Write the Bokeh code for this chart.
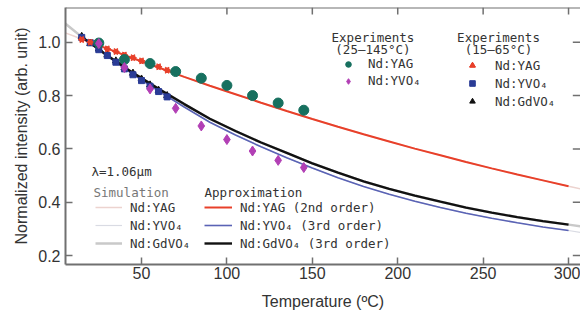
import math
from bokeh.plotting import figure
from bokeh.models import Range1d, FixedTicker, Legend, LegendItem, Label, Span, PrintfTickFormatter
from bokeh.embed import file_html
from bokeh.resources import INLINE

# ---------------- data ----------------
x_ticks = [50, 100, 150, 200, 250, 300]
y_ticks = [0.2, 0.4, 0.6, 0.8, 1.0]

temp_approx = [15, 30, 45, 60, 75, 90, 105, 120, 135, 150, 165, 180, 195, 210, 225, 240, 255, 270, 285, 300]
yag_approx = [1.012, 0.976, 0.940, 0.905, 0.870, 0.837, 0.805, 0.773, 0.742, 0.712, 0.683, 0.655, 0.628,
              0.601, 0.576, 0.551, 0.527, 0.504, 0.482, 0.460]
yvo4_approx = [1.020, 0.948, 0.880, 0.817, 0.757, 0.700, 0.652, 0.608, 0.567, 0.528, 0.492, 0.459, 0.430,
               0.404, 0.380, 0.359, 0.340, 0.323, 0.307, 0.294]
gdvo4_approx = [1.020, 0.950, 0.885, 0.825, 0.768, 0.713, 0.667, 0.624, 0.585, 0.546, 0.511, 0.478, 0.450,
                0.425, 0.402, 0.380, 0.361, 0.344, 0.329, 0.316]

temp_sim = [5, 15, 30, 45, 60, 75, 90, 105, 120, 135, 150, 165, 180, 195, 210, 225, 240, 255, 270, 285, 300, 312]
yag_sim = [1.036, 1.012, 0.976, 0.940, 0.905, 0.870, 0.837, 0.805, 0.773, 0.742, 0.712, 0.683, 0.655, 0.628,
           0.601, 0.576, 0.551, 0.527, 0.504, 0.482, 0.460, 0.443]
yvo4_sim = [1.070, 1.020, 0.948, 0.880, 0.817, 0.757, 0.700, 0.652, 0.608, 0.567, 0.528, 0.492, 0.459, 0.430,
            0.404, 0.380, 0.359, 0.340, 0.323, 0.307, 0.294, 0.282]
gdvo4_sim = [1.072, 1.020, 0.950, 0.885, 0.825, 0.768, 0.713, 0.667, 0.624, 0.585, 0.546, 0.511, 0.478, 0.450,
             0.425, 0.402, 0.380, 0.361, 0.344, 0.329, 0.316, 0.305]

temp_exp1 = [25, 40, 55, 70, 85, 100, 115, 130, 145]
yag_exp1 = [0.997, 0.935, 0.920, 0.890, 0.865, 0.838, 0.800, 0.772, 0.745]
yvo4_exp1 = [0.995, 0.905, 0.825, 0.752, 0.686, 0.635, 0.592, 0.557, 0.530]

temp_exp2 = [15, 20, 25, 30, 35, 40, 45, 50, 55, 60, 65]
yag_exp2 = [1.010, 1.000, 0.990, 0.975, 0.965, 0.952, 0.942, 0.930, 0.920, 0.908, 0.895]
yvo4_exp2 = [1.018, 0.998, 0.972, 0.950, 0.925, 0.900, 0.878, 0.856, 0.835, 0.815, 0.795]
gdvo4_exp2 = [1.022, 0.995, 0.975, 0.952, 0.930, 0.905, 0.884, 0.862, 0.840, 0.820, 0.800]

# ---------------- styles ----------------
MONO = "DejaVu Sans Mono"
SANS = "Liberation Sans"
AX = "#707070"
TXT = "#333333"
RED = "#e8402a"
TEAL = "#17705f"
MAG = "#b23fb5"
BLUE_M = "#2a3c96"
BLUE_L = "#5a63b5"
BLACK = "#111111"

X0, X1 = 5.5, 307.0
Y0, Y1 = 0.1665, 1.1302
TICK_Y = 0.026
TICK_X = 4.5

p = figure(width=580, height=312, output_backend="svg", toolbar_location=None,
           x_range=Range1d(X0, X1), y_range=Range1d(Y0, Y1),
           min_border_left=65, min_border_right=0, min_border_top=7, min_border_bottom=46)
p.xgrid.visible = False
p.ygrid.visible = False
p.outline_line_color = None
p.background_fill_color = "white"
p.border_fill_color = "white"

for ax in (p.xaxis[0], p.yaxis[0]):
    ax.axis_line_color = AX
    ax.axis_line_width = 2
    ax.major_tick_line_color = AX
    ax.major_tick_line_width = 1.5
    ax.major_tick_in = 7
    ax.major_tick_out = 0
    ax.minor_tick_line_color = None
    ax.major_label_text_font = SANS
    ax.major_label_text_font_size = "16px"
    ax.major_label_text_color = TXT
    ax.axis_label_text_font = SANS
    ax.axis_label_text_font_size = "16px"
    ax.axis_label_text_font_style = "normal"
    ax.axis_label_text_color = TXT

p.xaxis.ticker = FixedTicker(ticks=x_ticks)
p.yaxis.ticker = FixedTicker(ticks=y_ticks)
p.yaxis.formatter = PrintfTickFormatter(format="%.1f")
p.yaxis.axis_label = "Normalized intensity (arb. unit)"
p.xaxis.axis_label = "Temperature (ºC)"
p.xaxis.major_label_standoff = 2
p.xaxis.axis_label_standoff = 11
p.yaxis.major_label_standoff = 5
p.yaxis.axis_label_standoff = 5

# top frame line and mirrored ticks (top and right)
p.add_layout(Span(location=Y1, dimension="width", line_color=AX, line_width=2))
p.segment(x0=x_ticks, x1=x_ticks, y0=[Y1] * len(x_ticks), y1=[Y1 - TICK_Y] * len(x_ticks),
          line_color=AX, line_width=1.5)
p.segment(x0=[X1] * len(y_ticks), x1=[X1 - TICK_X] * len(y_ticks), y0=y_ticks, y1=y_ticks,
          line_color=AX, line_width=1.5)

# simulation curves
s_yag = p.line(temp_sim, yag_sim, line_color="#ecd3cf", line_width=1.5)
s_yvo = p.line(temp_sim, yvo4_sim, line_color="#d9dbe3", line_width=1.2)
s_gdv = p.line(temp_sim, gdvo4_sim, line_color="#c9c9c9", line_width=2.5)

# approximation curves
a_yag = p.line(temp_approx, yag_approx, line_color=RED, line_width=2)
a_yvo = p.line(temp_approx, yvo4_approx, line_color=BLUE_L, line_width=1.6)
a_gdv = p.line(temp_approx, gdvo4_approx, line_color=BLACK, line_width=2.4)

# experiments 15-65 C
e2_gdv = p.scatter(temp_exp2, gdvo4_exp2, marker="triangle", size=7, color=BLACK)
e2_yvo = p.scatter(temp_exp2, yvo4_exp2, marker="square", size=6, color=BLUE_M)
e2_yag_a = p.scatter(temp_exp2, yag_exp2, marker="triangle", angle=-math.pi / 2, size=6, color=RED)
e2_yag_b = p.scatter(temp_exp2, yag_exp2, marker="triangle", angle=math.pi / 2, size=6, color=RED)

# experiments 25-145 C
e1_yag = p.scatter(temp_exp1, yag_exp1, marker="circle", size=10, color=TEAL)
e1_yvo = p.scatter(temp_exp1, yvo4_exp1, marker="diamond", size=10, color=MAG)


def make_legend(items, loc, gw, gh, std):
    lg = Legend(items=items, location=loc, glyph_width=gw, glyph_height=gh, label_height=gh,
                spacing=2, label_standoff=std, padding=0, margin=0,
                background_fill_alpha=0, border_line_alpha=0,
                label_text_font=MONO, label_text_font_size="12.5px", label_text_color=TXT)
    p.add_layout(lg)
    return lg


make_legend([LegendItem(label="Nd:YAG", renderers=[s_yag]),
             LegendItem(label="Nd:YVO₄", renderers=[s_yvo]),
             LegendItem(label="Nd:GdVO₄", renderers=[s_gdv])], (30, 13), 27, 16, 8)
make_legend([LegendItem(label="Nd:YAG (2nd order)", renderers=[a_yag]),
             LegendItem(label="Nd:YVO₄ (3rd order)", renderers=[a_yvo]),
             LegendItem(label="Nd:GdVO₄ (3rd order)", renderers=[a_gdv])], (139, 13), 28, 16, 8)
make_legend([LegendItem(label="Nd:YAG", renderers=[e1_yag]),
             LegendItem(label="Nd:YVO₄", renderers=[e1_yvo])], (276, 176), 14, 14, 13)
make_legend([LegendItem(label="Nd:YAG", renderers=[e2_yag_a, e2_yag_b]),
             LegendItem(label="Nd:YVO₄", renderers=[e2_yvo]),
             LegendItem(label="Nd:GdVO₄", renderers=[e2_gdv])], (400, 155), 14, 16, 16)


def add_label(x, y, text, align="left", color=TXT):
    p.add_layout(Label(x=x, y=y, text=text, text_align=align, text_baseline="middle",
                       text_font=MONO, text_font_size="12.5px", text_color=color))


add_label(185.5, 1.0167, "Experiments", "center")
add_label(185.5, 0.974, "(25–145°C)", "center")
add_label(259.0, 1.0167, "Experiments", "center")
add_label(259.0, 0.974, "(15–65°C)", "center")
add_label(20.7, 0.516, "λ=1.06μm")
add_label(21.9, 0.438, "Simulation", color="#777777")
add_label(86.9, 0.438, "Approximation")

open("out.html", "w").write(file_html(p, INLINE))
